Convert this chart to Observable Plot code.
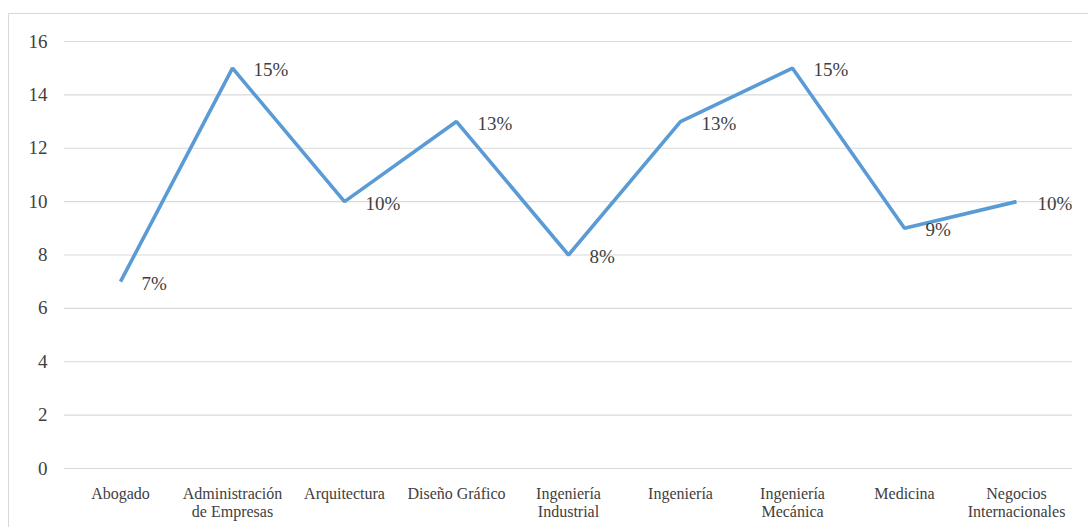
<!DOCTYPE html>
<html>
<head>
<meta charset="utf-8">
<script src="https://cdn.jsdelivr.net/npm/d3@7"></script>
<script src="https://cdn.jsdelivr.net/npm/@observablehq/plot@0.6"></script>
<style>
  html, body { margin: 0; padding: 0; background: #fff; overflow: hidden; }
  #wrap { position: relative; width: 1088px; height: 527px; }
  #border { position: absolute; left: 8px; top: 13px; right: -20px; bottom: -20px; border: 1.5px solid #d9d9d9; pointer-events: none; }
  #warm { position: absolute; left: 0; top: 0; font-family: "Times New Roman", serif; font-size: 1px; color: #fff; pointer-events: none; }
  svg { display: block; }
</style>
</head>
<body>
<div id="wrap"><div id="border"></div><div id="warm">.</div></div>
<script>
const categories = ["Abogado", "Administración de Empresas", "Arquitectura", "Diseño Gráfico", "Ingeniería Industrial", "Ingeniería", "Ingeniería Mecánica", "Medicina", "Negocios Internacionales"];
const tickLabels = ["Abogado", "Administración\nde Empresas", "Arquitectura", "Diseño Gráfico", "Ingeniería\nIndustrial", "Ingeniería", "Ingeniería\nMecánica", "Medicina", "Negocios\nInternacionales"];
const values = [7, 15, 10, 13, 8, 13, 15, 9, 10];
const valueLabels = ["7%", "15%", "10%", "13%", "8%", "13%", "15%", "9%", "10%"];
const yTicks = [0, 2, 4, 6, 8, 10, 12, 14, 16];

const data = categories.map((c, i) => ({cat: c, value: values[i], label: valueLabels[i]}));
const labelOf = new Map(categories.map((c, i) => [c, tickLabels[i]]));
const FONT = "Times New Roman";

const chart = Plot.plot({
  width: 1088,
  height: 527,
  marginLeft: 64,
  marginRight: 16,
  marginTop: 41,
  marginBottom: 59,
  style: {fontFamily: FONT, color: "#404040", background: "transparent"},
  x: {type: "point", domain: categories, padding: 0.5},
  y: {domain: [0, 16]},
  marks: [
    Plot.gridY(yTicks, {stroke: "#d9d9d9", strokeOpacity: 1, strokeWidth: 1.2}),
    Plot.axisY(yTicks, {tickSize: 0, tickPadding: 17, fontSize: 19, fontFamily: FONT, fill: "#404040", label: null}),
    Plot.axisX({tickSize: 0, tickPadding: 18, fontSize: 16, fontFamily: FONT, fill: "#404040", label: null, tickFormat: d => labelOf.get(d), lineHeight: 1.12}),
    Plot.line(data, {x: "cat", y: "value", stroke: "#5B9BD5", strokeWidth: 3.6, strokeLinejoin: "miter", strokeLinecap: "butt"}),
    Plot.text(data, {x: "cat", y: "value", text: "label", dx: 21, dy: 2, textAnchor: "start", fontSize: 19, fontFamily: FONT, fill: "#404040"})
  ]
});
document.getElementById("wrap").prepend(chart);
const texts = chart.querySelectorAll("text");
let probe = "";
texts.forEach(t => { probe += getComputedStyle(t).fontFamily; });
document.getElementById("warm").setAttribute("data-probe", String(probe.length));
</script>
</body>
</html>
